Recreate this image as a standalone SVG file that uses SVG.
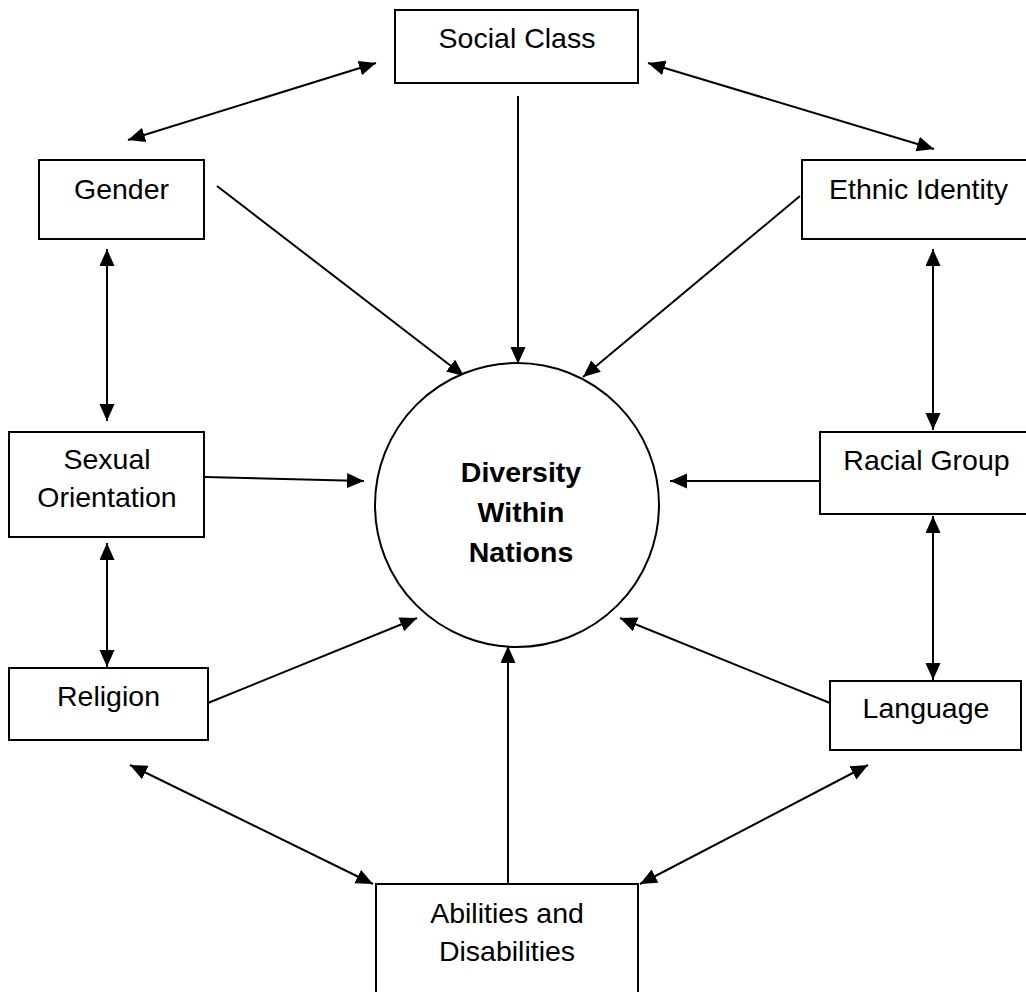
<svg xmlns="http://www.w3.org/2000/svg" width="1026" height="992" viewBox="0 0 1026 992">
  <style>
    .box { fill: #fff; stroke: #000; stroke-width: 2; }
    .hub { fill: #fff; stroke: #000; stroke-width: 2; }
    .lbl { font-family: "Liberation Sans", Arial, sans-serif; font-size: 28.5px; fill: #000; text-anchor: middle; }
    .bold { font-weight: bold; }
    .link { stroke: #000; stroke-width: 2; fill: none; }
    .one { marker-end: url(#head); }
    .two { marker-start: url(#head); marker-end: url(#head); }
  </style>
  <defs>
    <marker id="head" markerUnits="userSpaceOnUse" markerWidth="18" markerHeight="16" refX="17" refY="7.5" orient="auto-start-reverse">
      <path d="M0,0 L17,7.5 L0,15 z" fill="#000"/>
    </marker>
  </defs>
  <rect width="1026" height="992" fill="#fff"/>

  <g id="connectors">
    <line class="link two" x1="128" y1="140" x2="376" y2="63"/>
    <line class="link two" x1="648" y1="63" x2="934" y2="149"/>
    <line class="link one" x1="518" y1="96" x2="518" y2="364"/>
    <line class="link one" x1="217" y1="186" x2="464" y2="376"/>
    <line class="link one" x1="800" y1="196" x2="583" y2="377"/>
    <line class="link two" x1="107" y1="249" x2="107" y2="421"/>
    <line class="link two" x1="933" y1="249" x2="933" y2="430"/>
    <line class="link one" x1="205" y1="477" x2="364" y2="481"/>
    <line class="link one" x1="820" y1="481" x2="670" y2="481"/>
    <line class="link two" x1="107" y1="543" x2="107" y2="667"/>
    <line class="link two" x1="933" y1="516" x2="933" y2="680"/>
    <line class="link one" x1="208" y1="703" x2="417" y2="618"/>
    <line class="link one" x1="830" y1="703" x2="620" y2="618"/>
    <line class="link one" x1="508" y1="884" x2="508" y2="646"/>
    <line class="link two" x1="130" y1="765" x2="373" y2="884"/>
    <line class="link two" x1="868" y1="765" x2="640" y2="884"/>
  </g>

  <g id="diversity">
    <circle class="hub" cx="517" cy="505" r="142"/>
    <text class="lbl bold" x="521" y="482">Diversity</text>
    <text class="lbl bold" x="521" y="522">Within</text>
    <text class="lbl bold" x="521" y="562">Nations</text>
  </g>

  <g id="social-class">
    <rect class="box" x="395" y="10" width="243" height="73"/>
    <text class="lbl" x="517" y="48">Social Class</text>
  </g>

  <g id="gender">
    <rect class="box" x="39" y="160" width="165" height="79"/>
    <text class="lbl" x="121.5" y="199">Gender</text>
  </g>

  <g id="ethnic-identity">
    <rect class="box" x="802" y="160" width="230" height="79"/>
    <text class="lbl" x="918.5" y="199">Ethnic Identity</text>
  </g>

  <g id="sexual-orientation">
    <rect class="box" x="9" y="432" width="195" height="105"/>
    <text class="lbl" x="107" y="469">Sexual</text>
    <text class="lbl" x="107" y="507">Orientation</text>
  </g>

  <g id="racial-group">
    <rect class="box" x="820" y="432" width="212" height="82"/>
    <text class="lbl" x="926.5" y="470">Racial Group</text>
  </g>

  <g id="religion">
    <rect class="box" x="9" y="668" width="199" height="72"/>
    <text class="lbl" x="108.5" y="706">Religion</text>
  </g>

  <g id="language">
    <rect class="box" x="830" y="681" width="191" height="69"/>
    <text class="lbl" x="926" y="718">Language</text>
  </g>

  <g id="abilities">
    <rect class="box" x="376" y="884" width="262" height="130"/>
    <text class="lbl" x="507" y="923">Abilities and</text>
    <text class="lbl" x="507" y="961">Disabilities</text>
  </g>
</svg>
